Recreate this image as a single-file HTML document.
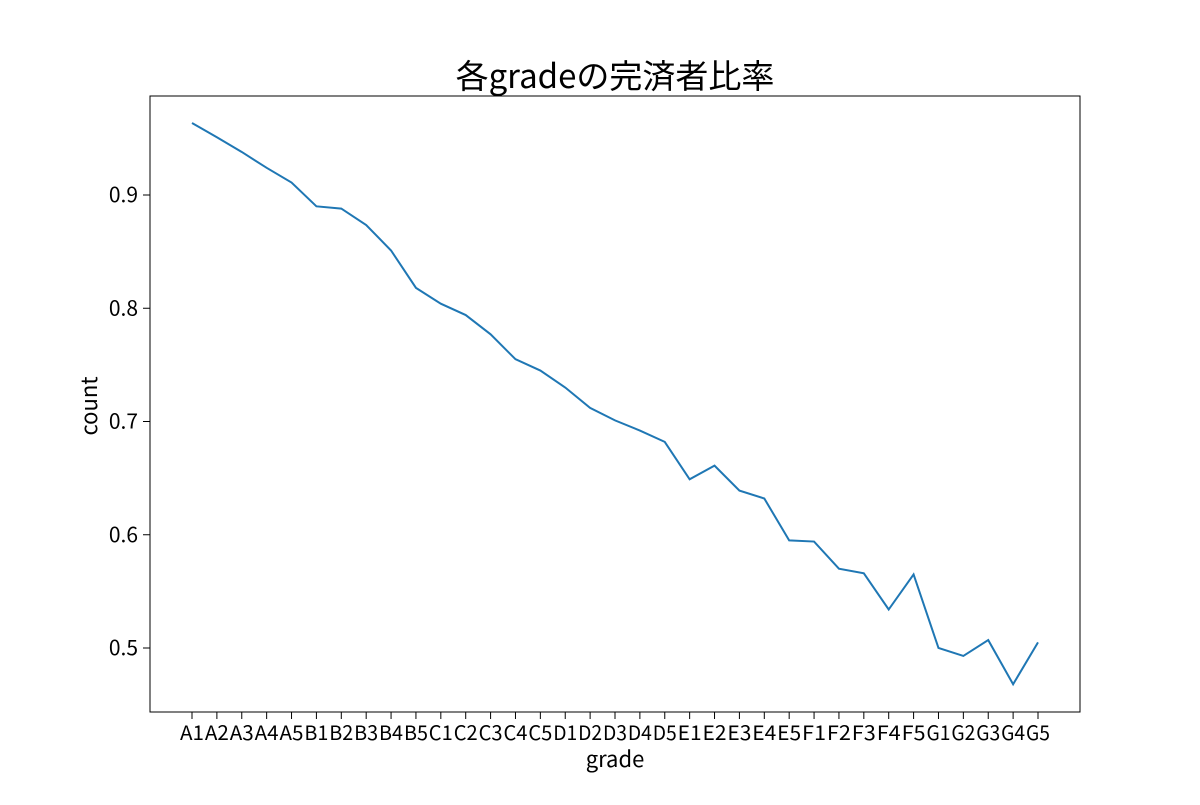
<!DOCTYPE html>
<html><head><meta charset="utf-8"><style>
body{margin:0;background:#fff;}
svg text{font-family:"Noto Sans CJK JP","Liberation Sans",sans-serif;fill:#000;}
</style></head><body>
<svg id="chart" width="1200" height="800">
<text x="615" y="88" font-size="33" text-anchor="middle">各gradeの完済者比率</text>
<rect x="150" y="96" width="930" height="616" fill="none" stroke="#000" stroke-width="1"/>
<g id="yt"></g><g id="xt"></g>
<text x="615" y="767" font-size="22" text-anchor="middle">grade</text>
<text transform="translate(97,406) rotate(-90)" font-size="22" text-anchor="middle">count</text>
<path id="line" fill="none" stroke="#1f77b4" stroke-width="2"/>
</svg>
<script>
const categories=["A1","A2","A3","A4","A5","B1","B2","B3","B4","B5","C1","C2","C3","C4","C5","D1","D2","D3","D4","D5","E1","E2","E3","E4","E5","F1","F2","F3","F4","F5","G1","G2","G3","G4","G5"];
const values=[0.9636,0.951,0.938,0.924,0.911,0.890,0.888,0.8735,0.851,0.818,0.804,0.794,0.777,0.755,0.745,0.730,0.712,0.701,0.692,0.682,0.649,0.661,0.639,0.632,0.595,0.594,0.570,0.566,0.534,0.565,0.500,0.493,0.507,0.468,0.505];
const yTicks=[0.5,0.6,0.7,0.8,0.9];
const NS="http://www.w3.org/2000/svg";
function y(v){return 648-(v-0.5)*1132.5;}
function x(i){return 192+i*(846/(categories.length-1));}
const yt=document.getElementById('yt'),xt=document.getElementById('xt');
yTicks.forEach(t=>{
 const l=document.createElementNS(NS,'line');
 l.setAttribute('x1',143);l.setAttribute('x2',150);l.setAttribute('y1',y(t));l.setAttribute('y2',y(t));l.setAttribute('stroke','#000');
 
 
 yt.appendChild(l);
 const tx=document.createElementNS(NS,'text');
 tx.setAttribute('x',138);tx.setAttribute('y',y(t)+7);tx.setAttribute('text-anchor','end');tx.setAttribute('font-size','21');
 tx.textContent=t.toFixed(1);
 
 
 yt.appendChild(tx);
});
categories.forEach((c,i)=>{
 const l=document.createElementNS(NS,'line');
 l.setAttribute('x1',x(i));l.setAttribute('x2',x(i));l.setAttribute('y1',712);l.setAttribute('y2',719);l.setAttribute('stroke','#000');
 
 
 xt.appendChild(l);
 const tx=document.createElementNS(NS,'text');
 tx.setAttribute('x',x(i));tx.setAttribute('y',740);tx.setAttribute('text-anchor','middle');tx.setAttribute('font-size','20');tx.setAttribute('textLength','24');tx.setAttribute('lengthAdjust','spacingAndGlyphs');
 tx.textContent=c;
 
 
 xt.appendChild(tx);
});
document.getElementById('line').setAttribute('d',values.map((v,i)=>(i?'L':'M')+x(i)+','+y(v)).join(''));
</script>
</body></html>
